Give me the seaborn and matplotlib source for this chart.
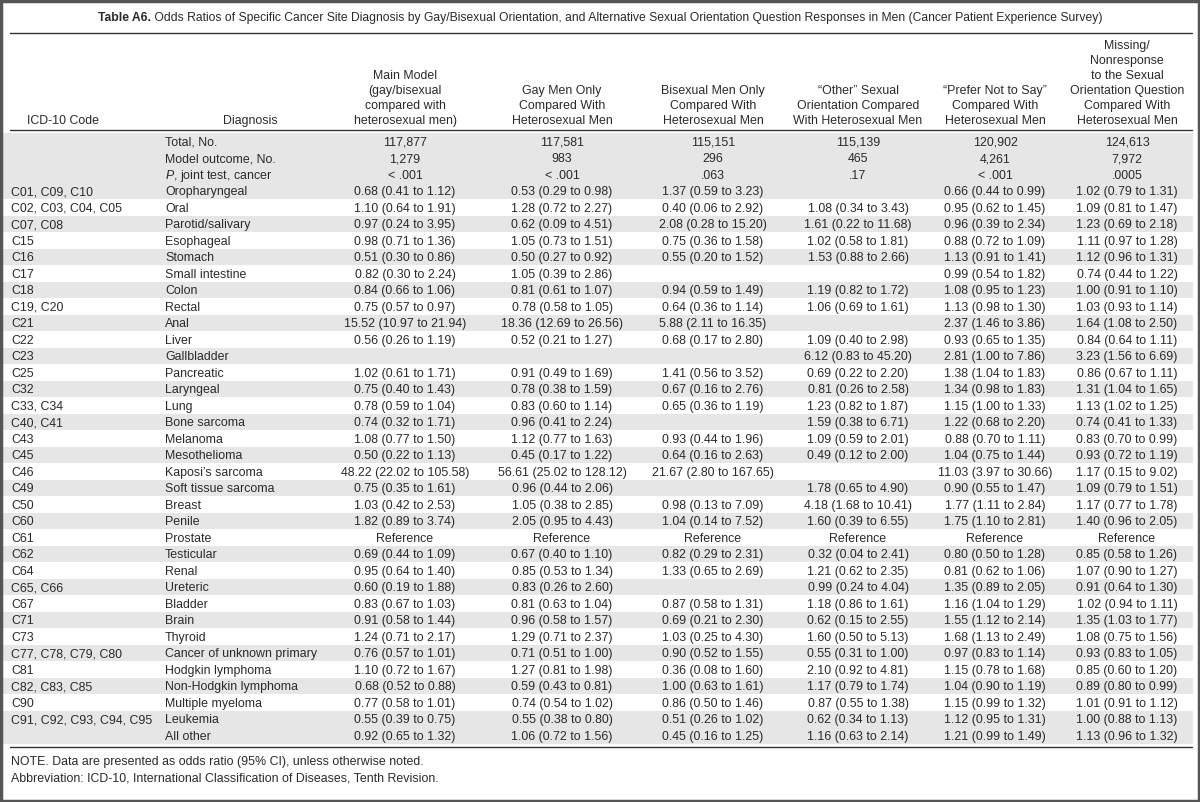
import matplotlib
matplotlib.use("Agg")
import matplotlib.pyplot as plt
from matplotlib.patches import Rectangle
import seaborn as sns

# ---- table content ----
title_bold = "Table A6."
title_rest = ("Odds Ratios of Specific Cancer Site Diagnosis by Gay/Bisexual Orientation, and Alternative "
              "Sexual Orientation Question Responses in Men (Cancer Patient Experience Survey)")

col_headers = [
    ["ICD-10 Code"],
    ["Diagnosis"],
    ["Main Model", "(gay/bisexual", "compared with", "heterosexual men)"],
    ["Gay Men Only", "Compared With", "Heterosexual Men"],
    ["Bisexual Men Only", "Compared With", "Heterosexual Men"],
    ["\u201cOther\u201d Sexual", "Orientation Compared", "With Heterosexual Men"],
    ["\u201cPrefer Not to Say\u201d", "Compared With", "Heterosexual Men"],
    ["Missing/", "Nonresponse", "to the Sexual", "Orientation Question", "Compared With", "Heterosexual Men"],
]

icd_codes = ["", "", "", "C01, C09, C10", "C02, C03, C04, C05", "C07, C08", "C15", "C16", "C17",
             "C18", "C19, C20", "C21", "C22", "C23", "C25", "C32", "C33, C34", "C40, C41", "C43",
             "C45", "C46", "C49", "C50", "C60", "C61", "C62", "C64", "C65, C66", "C67", "C71",
             "C73", "C77, C78, C79, C80", "C81", "C82, C83, C85", "C90", "C91, C92, C93, C94, C95", ""]

diagnoses = ["Total, No.", "Model outcome, No.", r"$\mathit{P}$, joint test, cancer", "Oropharyngeal",
             "Oral", "Parotid/salivary", "Esophageal", "Stomach", "Small intestine", "Colon", "Rectal",
             "Anal", "Liver", "Gallbladder", "Pancreatic", "Laryngeal", "Lung", "Bone sarcoma",
             "Melanoma", "Mesothelioma", "Kaposi\u2019s sarcoma", "Soft tissue sarcoma", "Breast",
             "Penile", "Prostate", "Testicular", "Renal", "Ureteric", "Bladder", "Brain", "Thyroid",
             "Cancer of unknown primary", "Hodgkin lymphoma", "Non-Hodgkin lymphoma",
             "Multiple myeloma", "Leukemia", "All other"]

main_model = ["117,877", "1,279", "< .001", "0.68 (0.41 to 1.12)", "1.10 (0.64 to 1.91)",
              "0.97 (0.24 to 3.95)", "0.98 (0.71 to 1.36)", "0.51 (0.30 to 0.86)", "0.82 (0.30 to 2.24)",
              "0.84 (0.66 to 1.06)", "0.75 (0.57 to 0.97)", "15.52 (10.97 to 21.94)", "0.56 (0.26 to 1.19)",
              "", "1.02 (0.61 to 1.71)", "0.75 (0.40 to 1.43)", "0.78 (0.59 to 1.04)", "0.74 (0.32 to 1.71)",
              "1.08 (0.77 to 1.50)", "0.50 (0.22 to 1.13)", "48.22 (22.02 to 105.58)", "0.75 (0.35 to 1.61)",
              "1.03 (0.42 to 2.53)", "1.82 (0.89 to 3.74)", "Reference", "0.69 (0.44 to 1.09)",
              "0.95 (0.64 to 1.40)", "0.60 (0.19 to 1.88)", "0.83 (0.67 to 1.03)", "0.91 (0.58 to 1.44)",
              "1.24 (0.71 to 2.17)", "0.76 (0.57 to 1.01)", "1.10 (0.72 to 1.67)", "0.68 (0.52 to 0.88)",
              "0.77 (0.58 to 1.01)", "0.55 (0.39 to 0.75)", "0.92 (0.65 to 1.32)"]

gay_only = ["117,581", "983", "< .001", "0.53 (0.29 to 0.98)", "1.28 (0.72 to 2.27)",
            "0.62 (0.09 to 4.51)", "1.05 (0.73 to 1.51)", "0.50 (0.27 to 0.92)", "1.05 (0.39 to 2.86)",
            "0.81 (0.61 to 1.07)", "0.78 (0.58 to 1.05)", "18.36 (12.69 to 26.56)", "0.52 (0.21 to 1.27)",
            "", "0.91 (0.49 to 1.69)", "0.78 (0.38 to 1.59)", "0.83 (0.60 to 1.14)", "0.96 (0.41 to 2.24)",
            "1.12 (0.77 to 1.63)", "0.45 (0.17 to 1.22)", "56.61 (25.02 to 128.12)", "0.96 (0.44 to 2.06)",
            "1.05 (0.38 to 2.85)", "2.05 (0.95 to 4.43)", "Reference", "0.67 (0.40 to 1.10)",
            "0.85 (0.53 to 1.34)", "0.83 (0.26 to 2.60)", "0.81 (0.63 to 1.04)", "0.96 (0.58 to 1.57)",
            "1.29 (0.71 to 2.37)", "0.71 (0.51 to 1.00)", "1.27 (0.81 to 1.98)", "0.59 (0.43 to 0.81)",
            "0.74 (0.54 to 1.02)", "0.55 (0.38 to 0.80)", "1.06 (0.72 to 1.56)"]

bisexual_only = ["115,151", "296", ".063", "1.37 (0.59 to 3.23)", "0.40 (0.06 to 2.92)",
                 "2.08 (0.28 to 15.20)", "0.75 (0.36 to 1.58)", "0.55 (0.20 to 1.52)", "",
                 "0.94 (0.59 to 1.49)", "0.64 (0.36 to 1.14)", "5.88 (2.11 to 16.35)", "0.68 (0.17 to 2.80)",
                 "", "1.41 (0.56 to 3.52)", "0.67 (0.16 to 2.76)", "0.65 (0.36 to 1.19)", "",
                 "0.93 (0.44 to 1.96)", "0.64 (0.16 to 2.63)", "21.67 (2.80 to 167.65)", "",
                 "0.98 (0.13 to 7.09)", "1.04 (0.14 to 7.52)", "Reference", "0.82 (0.29 to 2.31)",
                 "1.33 (0.65 to 2.69)", "", "0.87 (0.58 to 1.31)", "0.69 (0.21 to 2.30)",
                 "1.03 (0.25 to 4.30)", "0.90 (0.52 to 1.55)", "0.36 (0.08 to 1.60)", "1.00 (0.63 to 1.61)",
                 "0.86 (0.50 to 1.46)", "0.51 (0.26 to 1.02)", "0.45 (0.16 to 1.25)"]

other_orient = ["115,139", "465", ".17", "", "1.08 (0.34 to 3.43)", "1.61 (0.22 to 11.68)",
                "1.02 (0.58 to 1.81)", "1.53 (0.88 to 2.66)", "", "1.19 (0.82 to 1.72)",
                "1.06 (0.69 to 1.61)", "", "1.09 (0.40 to 2.98)", "6.12 (0.83 to 45.20)",
                "0.69 (0.22 to 2.20)", "0.81 (0.26 to 2.58)", "1.23 (0.82 to 1.87)", "1.59 (0.38 to 6.71)",
                "1.09 (0.59 to 2.01)", "0.49 (0.12 to 2.00)", "", "1.78 (0.65 to 4.90)",
                "4.18 (1.68 to 10.41)", "1.60 (0.39 to 6.55)", "Reference", "0.32 (0.04 to 2.41)",
                "1.21 (0.62 to 2.35)", "0.99 (0.24 to 4.04)", "1.18 (0.86 to 1.61)", "0.62 (0.15 to 2.55)",
                "1.60 (0.50 to 5.13)", "0.55 (0.31 to 1.00)", "2.10 (0.92 to 4.81)", "1.17 (0.79 to 1.74)",
                "0.87 (0.55 to 1.38)", "0.62 (0.34 to 1.13)", "1.16 (0.63 to 2.14)"]

prefer_not = ["120,902", "4,261", "< .001", "0.66 (0.44 to 0.99)", "0.95 (0.62 to 1.45)",
              "0.96 (0.39 to 2.34)", "0.88 (0.72 to 1.09)", "1.13 (0.91 to 1.41)", "0.99 (0.54 to 1.82)",
              "1.08 (0.95 to 1.23)", "1.13 (0.98 to 1.30)", "2.37 (1.46 to 3.86)", "0.93 (0.65 to 1.35)",
              "2.81 (1.00 to 7.86)", "1.38 (1.04 to 1.83)", "1.34 (0.98 to 1.83)", "1.15 (1.00 to 1.33)",
              "1.22 (0.68 to 2.20)", "0.88 (0.70 to 1.11)", "1.04 (0.75 to 1.44)", "11.03 (3.97 to 30.66)",
              "0.90 (0.55 to 1.47)", "1.77 (1.11 to 2.84)", "1.75 (1.10 to 2.81)", "Reference",
              "0.80 (0.50 to 1.28)", "0.81 (0.62 to 1.06)", "1.35 (0.89 to 2.05)", "1.16 (1.04 to 1.29)",
              "1.55 (1.12 to 2.14)", "1.68 (1.13 to 2.49)", "0.97 (0.83 to 1.14)", "1.15 (0.78 to 1.68)",
              "1.04 (0.90 to 1.19)", "1.15 (0.99 to 1.32)", "1.12 (0.95 to 1.31)", "1.21 (0.99 to 1.49)"]

missing_resp = ["124,613", "7,972", ".0005", "1.02 (0.79 to 1.31)", "1.09 (0.81 to 1.47)",
                "1.23 (0.69 to 2.18)", "1.11 (0.97 to 1.28)", "1.12 (0.96 to 1.31)", "0.74 (0.44 to 1.22)",
                "1.00 (0.91 to 1.10)", "1.03 (0.93 to 1.14)", "1.64 (1.08 to 2.50)", "0.84 (0.64 to 1.11)",
                "3.23 (1.56 to 6.69)", "0.86 (0.67 to 1.11)", "1.31 (1.04 to 1.65)", "1.13 (1.02 to 1.25)",
                "0.74 (0.41 to 1.33)", "0.83 (0.70 to 0.99)", "0.93 (0.72 to 1.19)", "1.17 (0.15 to 9.02)",
                "1.09 (0.79 to 1.51)", "1.17 (0.77 to 1.78)", "1.40 (0.96 to 2.05)", "Reference",
                "0.85 (0.58 to 1.26)", "1.07 (0.90 to 1.27)", "0.91 (0.64 to 1.30)", "1.02 (0.94 to 1.11)",
                "1.35 (1.03 to 1.77)", "1.08 (0.75 to 1.56)", "0.93 (0.83 to 1.05)", "0.85 (0.60 to 1.20)",
                "0.89 (0.80 to 0.99)", "1.01 (0.91 to 1.12)", "1.00 (0.88 to 1.13)", "1.13 (0.96 to 1.32)"]

footnotes = ["NOTE. Data are presented as odds ratio (95% CI), unless otherwise noted.",
             "Abbreviation: ICD-10, International Classification of Diseases, Tenth Revision."]

# ---- styling / layout ----
sns.set_theme(style="white")
plt.rcParams['font.family'] = ['Liberation Sans', 'DejaVu Sans']
plt.rcParams['mathtext.fontset'] = 'custom'
plt.rcParams['mathtext.rm'] = 'Liberation Sans'
plt.rcParams['mathtext.it'] = 'Liberation Sans:italic'

TXT = '#2a2a2a'
SHADE = '#e6e6e6'
FS = 8.9
BASE = 4.4  # baseline sits this far below the visual centre of a line

fig = plt.figure(figsize=(12, 8.02), dpi=100)
ax = fig.add_axes([0, 0, 1, 1])
ax.set_xlim(0, 1200)
ax.set_ylim(802, 0)
ax.axis('off')


def put(x, y, s, ha='left', **kw):
    # all text shares one baseline rule so mixed strings line up
    return ax.text(x, y + BASE, s, fontsize=kw.pop('fontsize', FS), color=TXT,
                   ha=ha, va='baseline', **kw)


n_rows = len(diagnoses)
row_h = 16.5
y0 = 141.5
row_y = [y0 + i * row_h for i in range(n_rows)]
# first four rows shaded as a block, then alternating, last row shaded as well
shaded = [i < 4 or (i - 3) % 2 == 0 or i == n_rows - 1 for i in range(n_rows)]

for y, s in zip(row_y, shaded):
    if s:
        ax.add_patch(Rectangle((3, y - row_h / 2), 1190, row_h, color=SHADE, lw=0, zorder=0))

# title: bold label + regular text, centred together
renderer = fig.canvas.get_renderer()
t_b = put(0, 17, title_bold, fontsize=8.7, weight='bold')
t_r = put(0, 17, " " + title_rest, fontsize=8.7)
wb = t_b.get_window_extent(renderer).width
wr = t_r.get_window_extent(renderer).width
x_start = 600 - (wb + wr) / 2
t_b.set_x(x_start)
t_r.set_x(x_start + wb)

# rules
rule_kw = dict(color='#333333', lw=1.0)
ax.plot([10, 1192], [33, 33], **rule_kw)
ax.plot([10, 1192], [130, 130], **rule_kw)
ax.plot([10, 1192], [747, 747], **rule_kw)

# headers
header_x = [63, 250, 405, 562, 713, 858, 995, 1127]
header_last_y = 120
line_gap = 15
for hx, lines in zip(header_x, col_headers):
    n = len(lines)
    for k, line in enumerate(lines):
        put(hx, header_last_y - (n - 1 - k) * line_gap, line, ha='center')

# body
for y, code, diag in zip(row_y, icd_codes, diagnoses):
    put(11, y, code)
    put(165, y, diag)

value_cols = [main_model, gay_only, bisexual_only, other_orient, prefer_not, missing_resp]
for cx, col in zip(header_x[2:], value_cols):
    for y, val in zip(row_y, col):
        put(cx, y, val, ha='center')

# footnotes
for k, note in enumerate(footnotes):
    put(11, 761 + k * 16, note)

# outer frame
ax.add_patch(Rectangle((1, 1), 1198, 800, fill=False, edgecolor='#555555', lw=2.5, zorder=5))

fig.savefig('out.png', dpi=100)
